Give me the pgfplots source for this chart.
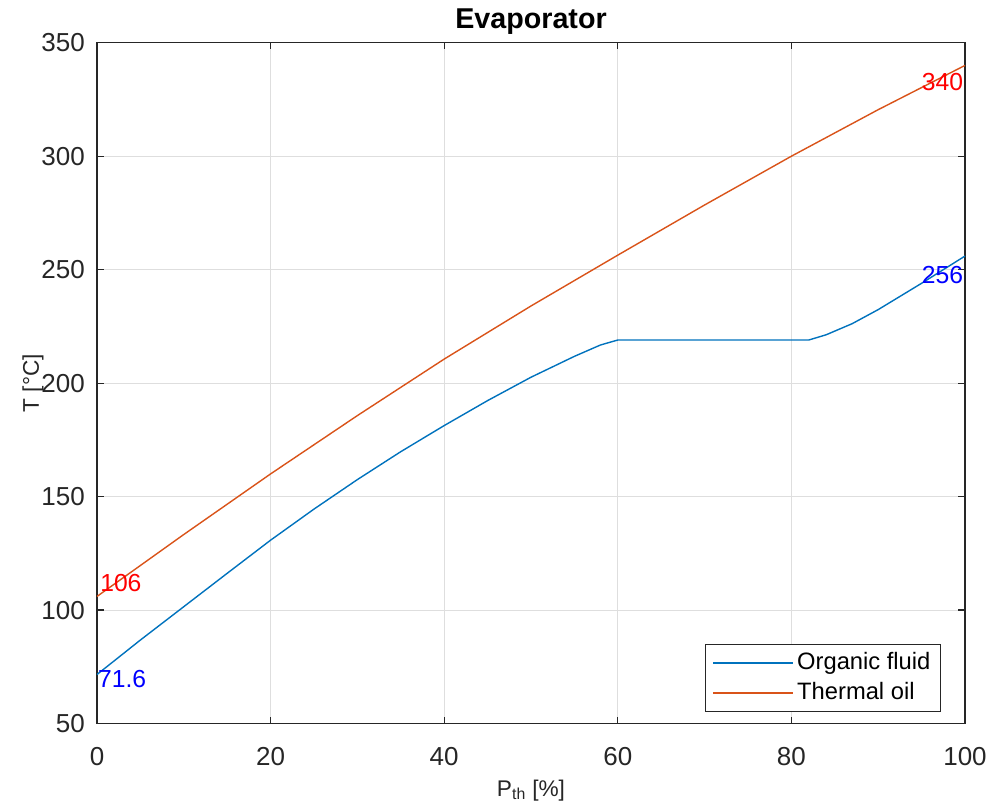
\documentclass[border=0pt]{standalone}
\usepackage{fontspec}
\setmainfont{Liberation Sans}
\usepackage{pgfplots}
\pgfplotsset{compat=1.18}
\definecolor{mblue}{rgb}{0,0.447,0.741}
\definecolor{morange}{rgb}{0.850,0.325,0.098}
\definecolor{axgray}{rgb}{0.15,0.15,0.15}
\begin{document}
\begin{tikzpicture}
\path[use as bounding box] (-72.75pt,-64.1pt) rectangle (673.5pt,542.65pt);
\begin{axis}[
  at={(0,0)}, anchor=south west,
  scale only axis, width=651pt, height=510.6pt,
  xmin=0, xmax=100, ymin=50, ymax=350,
  xtick={0,20,...,100}, ytick={50,100,...,350},
  tick pos=both, tick align=inside, major tick length=5pt,
  grid=major, major grid style={black!13, line width=0.7pt},
  axis line style={axgray, line width=0.9pt},
  tick style={axgray, line width=0.9pt},
  /pgf/number format/assume math mode=true,
  ticklabel style={font=\fontsize{19.5}{22}\selectfont, text=axgray},
  xticklabel style={anchor=north, inner sep=0pt, yshift=-17.4pt},
  yticklabel style={anchor=east, inner sep=0pt, xshift=-9pt},
  title={Evaporator},
  every axis title/.style={font=\fontsize{21.5}{24}\selectfont\bfseries, at={(axis description cs:0.5,1.0215)}, anchor=base},
  xlabel={P\textsubscript{th} [\%]},
  xlabel style={font=\fontsize{17}{20}\selectfont, text=axgray, at={(axis description cs:0.5,-0.1065)}, anchor=base},
  ylabel={T [°C]},
  every axis y label/.style={font=\fontsize{17}{20}\selectfont, text=axgray, at={(axis description cs:-0.0737,0.5)}, rotate=90, anchor=center},
  legend cell align=left,
  legend style={at={(axis description cs:0.9724,0.0169)}, anchor=south east,
    draw=axgray, line width=0.7pt, fill=white, inner xsep=5pt, inner ysep=2.5pt, row sep=0pt, column sep=0pt,
    font=\fontsize{17.8}{20}\selectfont,
    nodes={inner xsep=2.6pt, inner ysep=2.5pt, text height=13.5pt, text depth=4pt}},
  legend image code/.code={\draw[#1, line width=1.1pt] (0pt,0pt) -- (60pt,0pt);},
  clip=false,
]
\addplot[mblue, line width=1.05pt] coordinates {
  (0,71.6) (5,86.8) (10,101.5) (15,116.2) (20,130.8) (25,144.5) (30,157.5)
  (35,169.8) (40,181.3) (45,192.3) (50,202.6) (55,211.8) (58,216.8) (60,219)
  (82,219) (84,221.3) (87,226.2) (90,232.4) (95,244) (100,256)
};
\addlegendentry{Organic fluid}
\addplot[morange, line width=1.05pt] coordinates {
  (0,106) (10,133.3) (20,160) (30,185.7) (40,210.6) (50,234) (60,256.4)
  (70,278.5) (80,300) (90,320.5) (100,340)
};
\addlegendentry{Thermal oil}
% end-point value labels
\node[text=red, anchor=west, inner sep=0pt, font=\fontsize{18.5}{20}\selectfont] at (axis cs:0.35,112) {106};
\node[text=blue, anchor=west, inner sep=0pt, font=\fontsize{18.5}{20}\selectfont] at (axis cs:0.1,69.8) {71.6};
\node[text=red, anchor=east, inner sep=0pt, font=\fontsize{18.5}{20}\selectfont] at (axis cs:99.8,332.7) {340};
\node[text=blue, anchor=east, inner sep=0pt, font=\fontsize{18.5}{20}\selectfont] at (axis cs:99.8,247.8) {256};
\end{axis}
\end{tikzpicture}
\end{document}
